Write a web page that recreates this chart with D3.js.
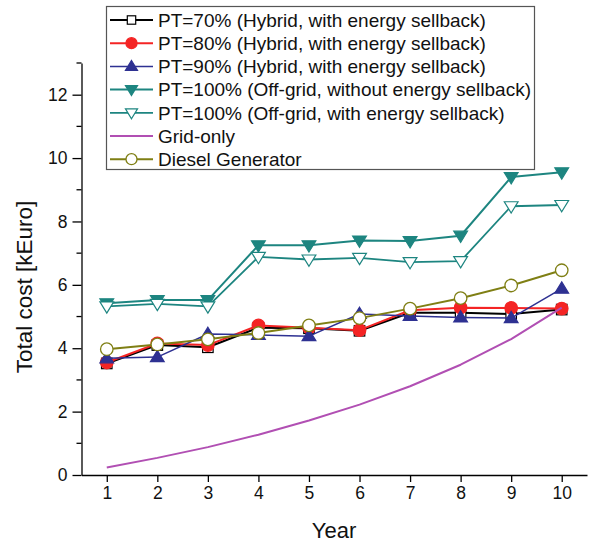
<!DOCTYPE html>
<html><head><meta charset="utf-8">
<script src="https://cdn.jsdelivr.net/npm/d3@7"></script>
<style>body{margin:0;background:#fff;} svg{display:block;font-family:"Liberation Sans",Arial,sans-serif;}</style>
</head><body><svg id="c" width="595" height="543"></svg>
<script>
const years = [1,2,3,4,5,6,7,8,9,10];
const pt70 = [3.52,4.1,4.03,4.65,4.63,4.55,5.12,5.12,5.08,5.22];
const pt80 = [3.55,4.15,4.1,4.72,4.65,4.57,5.2,5.28,5.27,5.25];
const pt90 = [3.68,3.72,4.45,4.42,4.38,5.08,5.02,4.97,4.95,5.88];
const pt100NoSell = [5.42,5.52,5.52,7.25,7.25,7.4,7.38,7.55,9.4,9.55];
const pt100Sell = [5.32,5.4,5.32,6.88,6.8,6.85,6.72,6.75,8.48,8.52];
const gridOnly = [0.24,0.54,0.88,1.27,1.72,2.22,2.8,3.48,4.29,5.28];
const diesel = [3.97,4.12,4.28,4.48,4.72,4.95,5.25,5.58,5.98,6.46];
const yTicks = [0,2,4,6,8,10,12];
const legendLabels = ["PT=70% (Hybrid, with energy sellback)","PT=80% (Hybrid, with energy sellback)","PT=90% (Hybrid, with energy sellback)","PT=100% (Off-grid, without energy sellback)","PT=100% (Off-grid, with energy sellback)","Grid-only","Diesel Generator"];

const series = [
  {name:legendLabels[0], values:pt70, color:"#000000", marker:"square", fill:"#ffffff", w:2},
  {name:legendLabels[1], values:pt80, color:"#f42424", marker:"circle", fill:"#f42424", w:2},
  {name:legendLabels[2], values:pt90, color:"#2e3192", marker:"triUp", fill:"#2e3192", w:1.5},
  {name:legendLabels[3], values:pt100NoSell, color:"#1d8580", marker:"triDown", fill:"#1d8580", w:2},
  {name:legendLabels[4], values:pt100Sell, color:"#1d8580", marker:"triDown", fill:"#ffffff", w:1.8},
  {name:legendLabels[5], values:gridOnly, color:"#b14fb3", marker:null, fill:null, w:2},
  {name:legendLabels[6], values:diesel, color:"#7f7f14", marker:"circle", fill:"#ffffff", w:2}
];

const svg = d3.select("#c");
const x = d3.scaleLinear().domain([0.5,10.5]).range([81.5,587]);
const y = d3.scaleLinear().domain([0,13]).range([475,63]);

const xAxis = d3.axisBottom(x).tickValues(years).tickSize(7).tickSizeOuter(0).tickPadding(5);
const gx = svg.append("g").attr("transform","translate(0,475)").call(xAxis);
gx.select(".domain").attr("stroke","#000").attr("stroke-width",1.3);
gx.selectAll(".tick line").attr("stroke-width",1.3);
gx.selectAll("text").attr("font-size",17.5).attr("fill","#111");

const yAxis = d3.axisLeft(y).tickValues(yTicks).tickSize(9).tickSizeOuter(0).tickPadding(5);
const gy = svg.append("g").attr("transform","translate(81.5,0)").call(yAxis);
gy.select(".domain").attr("stroke","#000").attr("stroke-width",1.3);
gy.selectAll(".tick line").attr("stroke-width",1.3);
gy.selectAll("text").attr("font-size",17.5).attr("fill","#111");
gy.selectAll(".minor").data(d3.range(1,14,2)).enter().append("line")
  .attr("x1",-5).attr("x2",0).attr("y1",d=>y(d)).attr("y2",d=>y(d))
  .attr("stroke","#000").attr("stroke-width",1.3);

svg.append("text").attr("x",334).attr("y",538).attr("text-anchor","middle").attr("font-size",22).attr("fill","#111").text("Year");
svg.append("text").attr("transform","translate(32,287) rotate(-90)").attr("text-anchor","middle").attr("font-size",22.5).attr("fill","#111").text("Total cost [kEuro]");

function drawMarker(g, type, cx, cy, s, color, fill){
  if(type==="square"){
    g.append("rect").attr("x",cx-s*0.42).attr("y",cy-s*0.42).attr("width",s*0.84).attr("height",s*0.84)
      .attr("fill",fill).attr("stroke",color).attr("stroke-width",1.2);
  } else if(type==="circle"){
    g.append("circle").attr("cx",cx).attr("cy",cy).attr("r",s*0.5).attr("fill",fill).attr("stroke",color).attr("stroke-width",1.3);
  } else if(type==="triUp"){
    const h=s*0.9, hw=s*0.55;
    g.append("path").attr("d",`M${cx},${cy-h*0.6}L${cx+hw},${cy+h*0.4}L${cx-hw},${cy+h*0.4}Z`).attr("fill",fill).attr("stroke",color).attr("stroke-width",1.2);
  } else if(type==="triDown"){
    const h=s*0.9, hw=s*0.55;
    g.append("path").attr("d",`M${cx},${cy+h*0.6}L${cx+hw},${cy-h*0.4}L${cx-hw},${cy-h*0.4}Z`).attr("fill",fill).attr("stroke",color).attr("stroke-width",1.2);
  }
}

const line = d3.line().x((d,i)=>x(years[i])).y(d=>y(d));
const plot = svg.append("g");
series.forEach(s=>{
  const g = plot.append("g");
  g.append("path").attr("d",line(s.values)).attr("fill","none").attr("stroke",s.color).attr("stroke-width",s.w).attr("stroke-linejoin","round");
  if(s.marker){
    s.values.forEach((v,i)=>drawMarker(g,s.marker,x(years[i]),y(v),12.5,s.color,s.fill));
  }
});

const lg = svg.append("g");
lg.append("rect").attr("x",106.5).attr("y",6.5).attr("width",428).attr("height",163).attr("fill","#fff").attr("stroke","#555").attr("stroke-width",1.2);
series.forEach((s,i)=>{
  const cy = 20 + i*23.2;
  lg.append("line").attr("x1",110).attr("x2",153).attr("y1",cy).attr("y2",cy).attr("stroke",s.color).attr("stroke-width",s.w);
  if(s.marker) drawMarker(lg,s.marker,131.5,cy,s.marker==="square"?10:11,s.color,s.fill);
  lg.append("text").attr("x",158).attr("y",cy).attr("dy","0.36em").attr("font-size",19).attr("fill","#111").text(s.name);
});
</script>
</body></html>
